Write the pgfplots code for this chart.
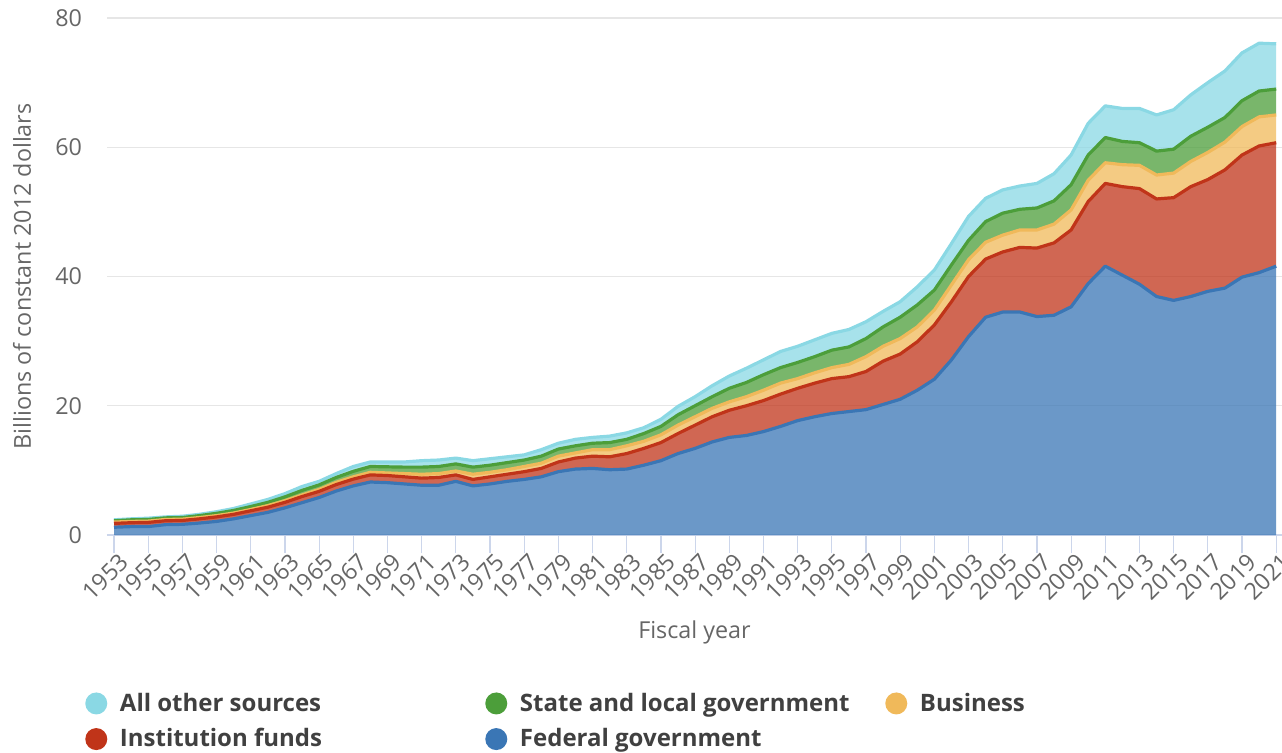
\documentclass[border=0pt]{standalone}
\usepackage{pgfplots}
\pgfplotsset{compat=1.18}
\usepackage{pgfplotstable}
\usepackage{fontspec}
\setmainfont{Open Sans}

\definecolor{cFed}{RGB}{58,118,181}
\definecolor{cInst}{RGB}{192,52,25}
\definecolor{cBus}{RGB}{240,185,90}
\definecolor{cState}{RGB}{76,158,58}
\definecolor{cOther}{RGB}{138,216,228}
\definecolor{axlab}{RGB}{102,102,102}
\definecolor{legtxt}{RGB}{64,64,64}
\definecolor{tickc}{RGB}{204,214,235}
\definecolor{gridc}{RGB}{230,230,230}

\pgfplotstableread{
year fed inst bus state other
1953 1.2 0.6 0.2 0.2 0.15
1954 1.3 0.6 0.2 0.25 0.15
1955 1.3 0.65 0.2 0.25 0.2
1956 1.6 0.6 0.2 0.25 0.15
1957 1.65 0.6 0.2 0.25 0.2
1958 1.85 0.65 0.2 0.3 0.2
1959 2.1 0.7 0.2 0.35 0.25
1960 2.5 0.7 0.2 0.4 0.3
1961 3.0 0.75 0.2 0.45 0.4
1962 3.5 0.8 0.25 0.5 0.45
1963 4.2 0.85 0.25 0.6 0.5
1964 5.0 0.95 0.25 0.7 0.6
1965 5.8 0.95 0.3 0.7 0.55
1966 6.8 1.0 0.35 0.75 0.6
1967 7.6 1.05 0.35 0.85 0.75
1968 8.2 1.1 0.4 0.9 0.7
1969 8.1 1.1 0.4 0.95 0.75
1970 7.9 1.1 0.5 1.0 0.8
1971 7.7 1.1 0.6 1.1 1.0
1972 7.7 1.2 0.6 1.1 1.0
1973 8.3 1.0 0.6 1.1 0.9
1974 7.6 1.0 0.8 1.1 1.0
1975 7.9 1.1 0.7 1.1 1.0
1976 8.3 1.1 0.7 1.1 0.9
1977 8.6 1.2 0.8 1.0 0.8
1978 9.0 1.3 0.8 1.1 1.0
1979 9.8 1.5 0.9 1.1 0.9
1980 10.2 1.7 0.8 1.1 1.0
1981 10.3 1.9 1.0 1.0 0.9
1982 10.1 2.0 1.1 1.1 1.0
1983 10.2 2.4 1.2 1.0 1.0
1984 10.8 2.6 1.1 1.2 0.9
1985 11.5 2.8 1.2 1.3 1.1
1986 12.6 3.1 1.3 1.6 1.3
1987 13.4 3.6 1.3 1.7 1.4
1988 14.4 3.9 1.3 1.8 1.7
1989 15.1 4.2 1.3 2.1 1.9
1990 15.4 4.6 1.4 2.2 2.2
1991 16.0 4.8 1.6 2.4 2.3
1992 16.8 5.0 1.7 2.4 2.5
1993 17.7 5.0 1.5 2.5 2.5
1994 18.3 5.2 1.6 2.5 2.6
1995 18.8 5.4 1.7 2.7 2.6
1996 19.1 5.4 1.9 2.7 2.7
1997 19.4 5.9 2.3 2.8 2.6
1998 20.2 6.7 2.3 3.0 2.4
1999 21.0 7.0 2.4 3.3 2.4
2000 22.4 7.5 2.3 3.4 2.8
2001 24.1 8.4 2.3 3.1 3.1
2002 27.1 9.0 2.6 3.1 3.3
2003 30.7 9.3 2.6 3.0 3.7
2004 33.7 9.0 2.6 3.2 3.6
2005 34.5 9.3 2.6 3.4 3.6
2006 34.5 10.0 2.7 3.2 3.6
2007 33.8 10.6 2.8 3.4 3.8
2008 34.0 11.2 2.9 3.6 4.2
2009 35.3 11.9 3.1 3.9 4.6
2010 38.9 12.7 3.3 3.9 4.9
2011 41.6 12.8 3.2 3.9 4.9
2012 40.2 13.7 3.4 3.6 5.1
2013 38.8 14.8 3.6 3.5 5.3
2014 36.9 15.1 3.7 3.7 5.6
2015 36.3 15.9 3.8 3.7 6.1
2016 36.9 17.0 3.9 3.9 6.4
2017 37.7 17.3 4.2 3.9 6.9
2018 38.2 18.3 4.3 3.8 7.2
2019 39.9 18.9 4.4 4.0 7.4
2020 40.6 19.6 4.5 4.0 7.4
2021 41.6 19.1 4.3 4.0 7.0
}\data

\pgfplotsset{
  common/.style={
    scale only axis, width=881.25pt, height=387.75pt,
    xmin=1952.59, xmax=2021.34, ymin=0, ymax=80,
    stack plots=y,
  },
}

\begin{document}
\begin{tikzpicture}
\begin{axis}[common,
  axis lines*=left,
  x axis line style={-, draw=tickc, line width=1.2pt},
  y axis line style={draw=none},
  xtick={1953,1955,...,2021},
  ytick={0,20,...,80},
  tick align=outside,
  major tick length=13.5pt,
  xtick style={draw=tickc, line width=0.9pt},
  ytick style={draw=none},
  ymajorgrids,
  grid style={draw=gridc, line width=0.9pt},
  /pgf/number format/assume math mode=true,
  /pgf/number format/1000 sep={},
  tick label style={font=\fontsize{17.5}{21}\selectfont, text=axlab},
  xticklabel style={xshift=3pt, yshift=1pt, rotate=45, anchor=north east, inner sep=0pt},
  yticklabel style={xshift=-5pt, anchor=east, inner sep=0pt},
  label style={font=\fontsize{17.5}{21}\selectfont, text=axlab},
  xlabel={Fiscal year},
  ylabel={Billions of constant 2012 dollars},
  xlabel style={at={(axis description cs:0.5,-0.1876)}, anchor=center},
  ylabel style={at={(axis description cs:-0.0723,0.5)}, anchor=center},
  legend columns=3,
  legend cell align=left,
  legend style={at={(axis description cs:-0.0187,-0.2998)}, anchor=north west,
    draw=none, fill=none, inner sep=0pt, row sep=7.5pt,
    font=\bfseries\fontsize{18}{21}\selectfont, text=legtxt,
    /tikz/every odd column/.append style={column sep=7.5pt}},
  legend image code/.code={\fill[#1, draw=none] (8.25pt,-0.3pt) circle (8.25pt);},
]
\addplot[forget plot, draw=none, fill=cFed, fill opacity=0.75] table[x=year, y=fed] {\data} \closedcycle;
\addplot[forget plot, draw=none, fill=cInst, fill opacity=0.75] table[x=year, y=inst] {\data} \closedcycle;
\addplot[forget plot, draw=none, fill=cBus, fill opacity=0.75] table[x=year, y=bus] {\data} \closedcycle;
\addplot[forget plot, draw=none, fill=cState, fill opacity=0.75] table[x=year, y=state] {\data} \closedcycle;
\addplot[forget plot, draw=none, fill=cOther, fill opacity=0.75] table[x=year, y=other] {\data} \closedcycle;
\addlegendimage{fill=cOther}
\addlegendentry{\makebox[272pt][l]{All other sources}}
\addlegendimage{fill=cState}
\addlegendentry{\makebox[272pt][l]{State and local government}}
\addlegendimage{fill=cBus}
\addlegendentry{Business}
\addlegendimage{fill=cInst}
\addlegendentry{\makebox[272pt][l]{Institution funds}}
\addlegendimage{fill=cFed}
\addlegendentry{\makebox[272pt][l]{Federal government}}
\end{axis}
\begin{axis}[common, hide axis]
\addplot[draw=cFed, line width=2.4pt, line join=round] table[x=year, y=fed] {\data};
\addplot[draw=cInst, line width=2.4pt, line join=round] table[x=year, y=inst] {\data};
\addplot[draw=cBus, line width=2.4pt, line join=round] table[x=year, y=bus] {\data};
\addplot[draw=cState, line width=2.4pt, line join=round] table[x=year, y=state] {\data};
\addplot[draw=cOther, line width=2.4pt, line join=round] table[x=year, y=other] {\data};
\end{axis}
\pgfresetboundingbox
\path[use as bounding box] ([shift={(-80.25pt,-162.75pt)}]current axis.south west) rectangle ([shift={(0pt,13.5pt)}]current axis.north east);
\end{tikzpicture}
\end{document}
